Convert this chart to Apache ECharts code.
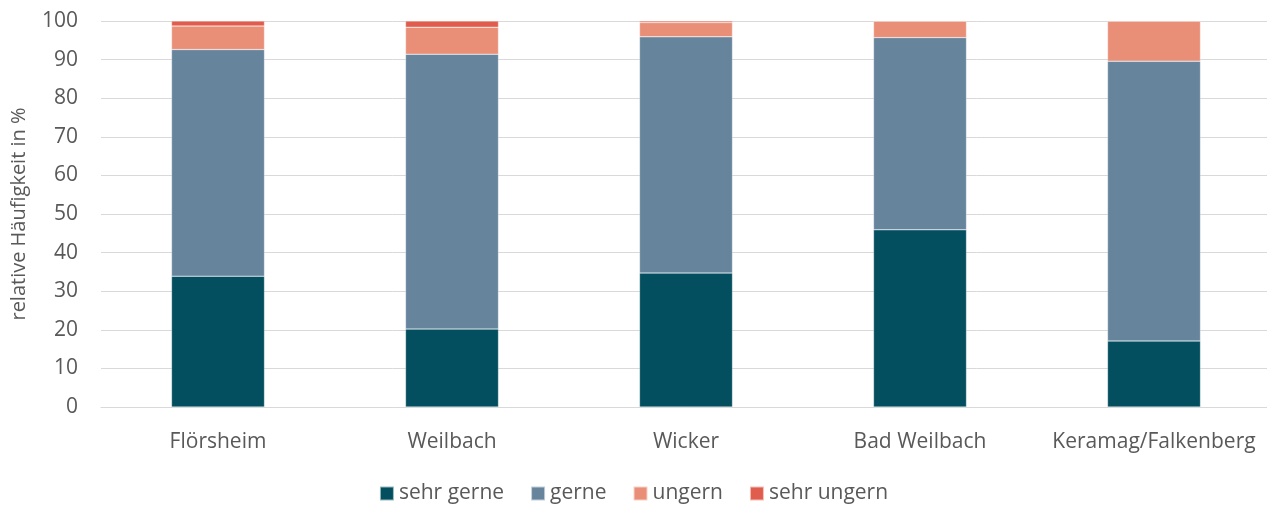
<!doctype html>
<html lang="de">
<head>
<meta charset="utf-8">
<title>Häufigkeit</title>
<script src="https://cdn.jsdelivr.net/npm/echarts@6/dist/echarts.min.js"></script>
<style>
  html, body { margin: 0; padding: 0; background: #fff; }
  #main { width: 1267px; height: 506px; }
</style>
</head>
<body>
<div id="main"></div>
<script type="text/javascript">
var categories = ['Flörsheim', 'Weilbach', 'Wicker', 'Bad Weilbach', 'Keramag/Falkenberg'];
var sehrGerne  = [33.9, 20.2, 34.7, 45.9, 17.1];
var gerne      = [58.7, 71.2, 61.2, 49.8, 72.5];
var ungern     = [6.1, 7.0, 3.7, 4.3, 10.4];
var sehrUngern = [1.3, 1.6, 0.4, 0, 0];
var yTicks = [0, 100, 10];

var textColor = '#595959';
var font = '"Open Sans", "Liberation Sans", sans-serif';

function bar(name, data, color) {
    return {
        name: name,
        type: 'bar',
        stack: 'total',
        barWidth: 93,
        data: data,
        itemStyle: { color: color, borderColor: 'rgba(255,255,255,0.6)', borderWidth: 0.5 }
    };
}

var myChart = echarts.init(document.getElementById('main'));
myChart.setOption({
    animation: false,
    textStyle: { fontFamily: font },
    grid: { left: 101, right: -4, top: 21, bottom: 99, containLabel: false, outerBoundsMode: 'none' },
    legend: {
        bottom: -3,
        left: 'center',
        itemWidth: 14,
        itemHeight: 14,
        itemGap: 26,
        icon: 'rect',
        textStyle: { color: textColor, fontSize: 21, fontFamily: font }
    },
    xAxis: {
        type: 'category',
        data: categories,
        axisLine: { lineStyle: { color: '#d9d9d9', width: 1 } },
        axisTick: { show: false },
        axisLabel: { color: textColor, fontSize: 21, margin: 25, interval: 0 }
    },
    yAxis: {
        type: 'value',
        min: yTicks[0],
        max: yTicks[1],
        interval: yTicks[2],
        name: 'relative Häufigkeit in %',
        nameLocation: 'middle',
        nameGap: 72,
        nameTextStyle: { color: textColor, fontSize: 20 },
        axisLabel: { color: textColor, fontSize: 21, margin: 23 },
        splitLine: { lineStyle: { color: '#d9d9d9', width: 1 } }
    },
    series: [
        bar('sehr gerne', sehrGerne, '#034f5f'),
        bar('gerne', gerne, '#66849c'),
        bar('ungern', ungern, '#ea8f77'),
        bar('sehr ungern', sehrUngern, '#e05d4e')
    ]
});
</script>
</body>
</html>
